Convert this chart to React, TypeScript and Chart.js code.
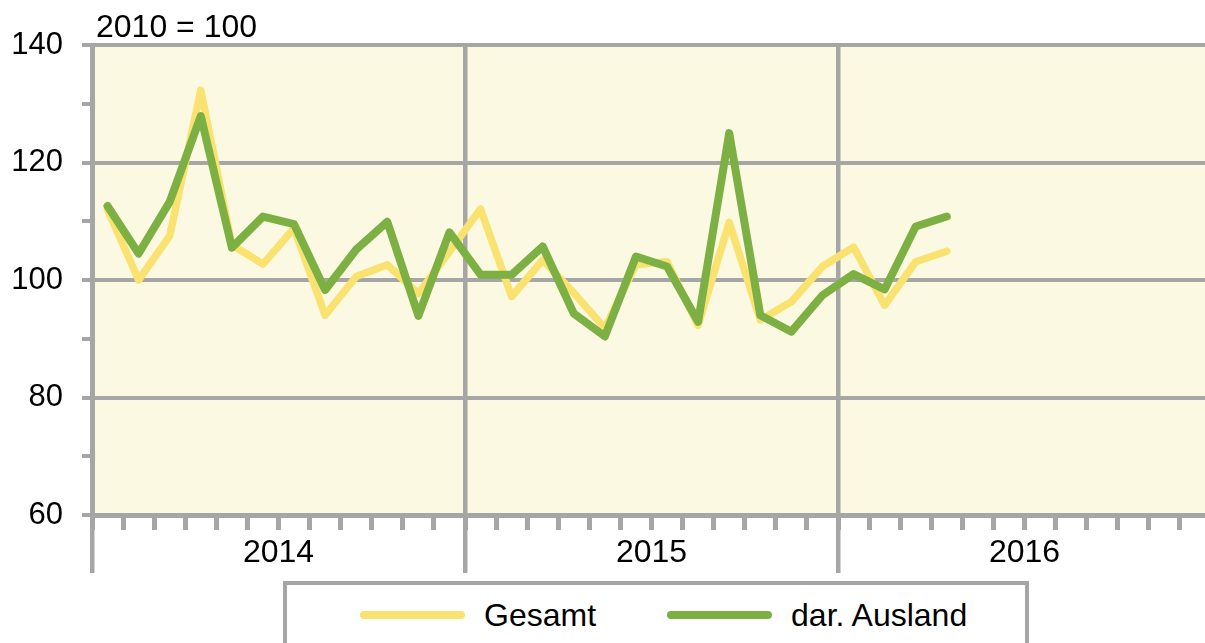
import React, { useEffect, useRef } from 'react';
import { Chart, registerables } from 'chart.js';

Chart.register(...registerables);

const years = ['2014', '2015', '2016'];
const monthNames = ['Jan', 'Feb', 'Mär', 'Apr', 'Mai', 'Jun', 'Jul', 'Aug', 'Sep', 'Okt', 'Nov', 'Dez'];
const monthLabels = years.flatMap((y) => monthNames.map((m) => `${m} ${y}`));

const seriesNames = ['Gesamt', 'dar. Ausland'];

const gesamt = [
  112, 100, 107.5, 132.3, 106, 102.7, 108.8, 94, 100.6, 102.6, 97.7, 104.8,
  112.1, 97.2, 103.4, 97.8, 91.8, 102.6, 103.1, 92.3, 109.8, 93.2, 96.3, 102.3,
  105.6, 95.7, 103.1, 104.9,
];

const ausland = [
  112.6, 104.5, 113.3, 127.9, 105.5, 110.8, 109.5, 98.3, 105.2, 109.9, 93.9, 108.1,
  100.9, 100.9, 105.7, 94.3, 90.4, 104, 102.3, 92.9, 125, 94, 91.2, 97.4,
  101, 98.4, 109.1, 110.8,
];

const yMin = 60;
const yMax = 140;
const yMajorStep = 20;
const yMinorStep = 10;
const baseLabel = '2010 = 100';

const YELLOW = '#F9E270';
const GREEN = '#7CB043';
const GRAY = '#A6A6A6';
const BG = '#FCF9E3';
const FONT_FAMILY = "'Liberation Sans', Arial, sans-serif";
const FONT_SIZE = 31;
const HTML_FONT_SIZE = 32;

const seriesColors = [YELLOW, GREEN];

const bgPlugin = {
  id: 'plotBg',
  beforeDraw(chart: any) {
    const { ctx, chartArea } = chart;
    if (!chartArea) return;
    ctx.save();
    ctx.fillStyle = BG;
    ctx.fillRect(chartArea.left, chartArea.top, chartArea.right - chartArea.left, chartArea.bottom - chartArea.top);
    ctx.restore();
  },
};

export default function App() {
  const canvasRef = useRef<HTMLCanvasElement | null>(null);

  useEffect(() => {
    if (!canvasRef.current) return;
    const font = { family: FONT_FAMILY, size: FONT_SIZE };
    const chart = new Chart(canvasRef.current, {
      type: 'line',
      data: {
        labels: monthLabels,
        datasets: [
          {
            label: seriesNames[0],
            data: gesamt,
            borderColor: seriesColors[0],
            backgroundColor: seriesColors[0],
            borderWidth: 7.5,
            pointRadius: 0,
            tension: 0,
            borderCapStyle: 'round',
            borderJoinStyle: 'round',
            order: 2,
          },
          {
            label: seriesNames[1],
            data: ausland,
            borderColor: seriesColors[1],
            backgroundColor: seriesColors[1],
            borderWidth: 8,
            pointRadius: 0,
            tension: 0,
            borderCapStyle: 'round',
            borderJoinStyle: 'round',
            order: 1,
          },
        ],
      },
      options: {
        responsive: false,
        animation: false,
        devicePixelRatio: 1,
        layout: { padding: { top: 45, right: 4, bottom: 55, left: 0 } },
        plugins: {
          legend: { display: false },
          tooltip: { enabled: false },
          title: { display: false },
        },
        scales: {
          x: {
            type: 'category',
            position: 'bottom',
            offset: true,
            weight: 0,
            grid: {
              offset: true,
              drawOnChartArea: false,
              drawTicks: true,
              tickLength: 15,
              tickWidth: 5,
              tickColor: GRAY,
              color: GRAY,
            },
            border: { display: true, color: GRAY, width: 5 },
            ticks: { display: false },
            afterFit: (s: any) => {
              s.height = 15;
            },
          },
          xYear: {
            type: 'category',
            axis: 'x',
            labels: years,
            position: 'bottom',
            offset: true,
            weight: 1,
            grid: {
              offset: true,
              drawOnChartArea: true,
              color: GRAY,
              lineWidth: 4.5,
              tickLength: 43,
              tickWidth: 4.5,
              tickColor: GRAY,
            },
            border: { display: false },
            ticks: {
              font: { family: FONT_FAMILY, size: 32 },
              color: '#000',
              padding: -39,
              maxRotation: 0,
              autoSkip: false,
            },
            afterFit: (s: any) => {
              s.height = 58;
            },
          },
          y: {
            min: yMin,
            max: yMax,
            ticks: {
              stepSize: yMinorStep,
              autoSkip: false,
              font,
              color: '#000',
              padding: 19,
              callback: (v: any) => (Number(v) % yMajorStep === 0 ? String(v) : ''),
            },
            grid: {
              color: (ctx: any) => (ctx.tick && ctx.tick.value % yMajorStep === 0 ? GRAY : 'rgba(0,0,0,0)'),
              lineWidth: 4,
              tickLength: 10,
              tickWidth: 4,
              tickColor: GRAY,
            },
            border: { display: true, color: GRAY, width: 5 },
            afterFit: (s: any) => {
              s.width = 92;
            },
          },
        },
      } as any,
      plugins: [bgPlugin],
    });
    return () => chart.destroy();
  }, []);

  const textStyle: React.CSSProperties = {
    fontFamily: FONT_FAMILY,
    fontSize: HTML_FONT_SIZE,
    lineHeight: '32px',
    color: '#000',
    whiteSpace: 'nowrap',
  };

  return (
    <div
      style={{
        position: 'fixed',
        left: 0,
        top: 0,
        width: 1205,
        height: 643,
        overflow: 'hidden',
        background: '#fff',
      }}
    >
      <canvas ref={canvasRef} width={1215} height={643} style={{ position: 'absolute', left: 0, top: 0 }} />
      <div style={{ ...textStyle, position: 'absolute', left: 96, top: 10 }}>{baseLabel}</div>
      <div
        style={{
          position: 'absolute',
          left: 283,
          top: 581,
          width: 746,
          height: 80,
          boxSizing: 'border-box',
          border: `4px solid ${GRAY}`,
          background: '#fff',
        }}
      >
        <div
          style={{
            position: 'absolute',
            left: 73,
            top: 14,
            height: 32,
            display: 'flex',
            alignItems: 'center',
            gap: 71,
          }}
        >
          {seriesNames.map((name, i) => (
            <div key={name} style={{ display: 'flex', alignItems: 'center', gap: 19 }}>
              <div style={{ width: 105, height: 8, borderRadius: 4, background: seriesColors[i] }} />
              <span style={textStyle}>{name}</span>
            </div>
          ))}
        </div>
      </div>
    </div>
  );
}
